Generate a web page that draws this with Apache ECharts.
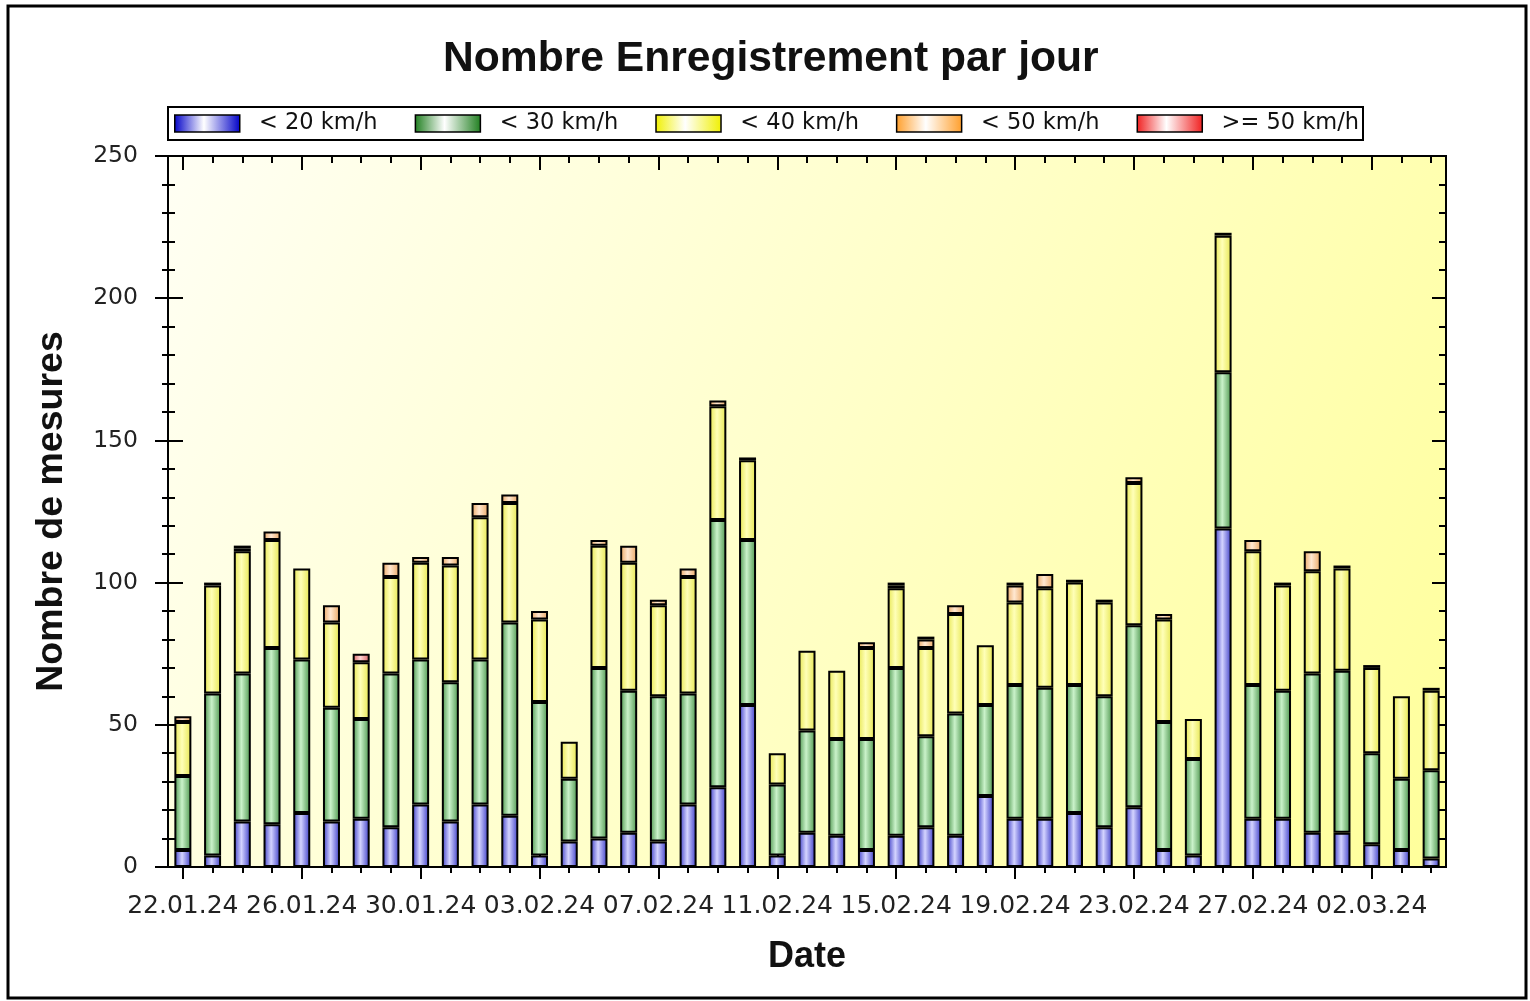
<!DOCTYPE html>
<html>
<head>
<meta charset="utf-8">
<script src="https://cdn.jsdelivr.net/npm/echarts/dist/echarts.min.js"></script>
<style>
html,body{margin:0;padding:0;background:#fff;}
#chart{width:1530px;height:1001px;}
</style>
</head>
<body>
<div id="chart"></div>
<script>
// ---- Data ----
const dates = ['22.01.24','23.01.24','24.01.24','25.01.24','26.01.24','27.01.24','28.01.24','29.01.24','30.01.24','31.01.24',
  '01.02.24','02.02.24','03.02.24','04.02.24','05.02.24','06.02.24','07.02.24','08.02.24','09.02.24','10.02.24',
  '11.02.24','12.02.24','13.02.24','14.02.24','15.02.24','16.02.24','17.02.24','18.02.24','19.02.24','20.02.24',
  '21.02.24','22.02.24','23.02.24','24.02.24','25.02.24','26.02.24','27.02.24','28.02.24','29.02.24','01.03.24',
  '02.03.24','03.03.24','04.03.24'];
const speedBands = ['< 20 km/h','< 30 km/h','< 40 km/h','< 50 km/h','>= 50 km/h'];
const below20 = [6,4,16,15,19,16,17,14,22,16,22,18,4,9,10,12,9,22,28,57,4,12,11,6,11,14,11,25,17,17,19,14,21,6,4,119,17,17,12,12,8,6,3];
const below30 = [26,57,52,62,54,40,35,54,51,49,51,68,54,22,60,50,51,39,94,58,25,36,34,39,59,32,43,32,47,46,45,46,64,45,34,55,47,45,56,57,32,25,31];
const below40 = [19,38,43,38,32,30,20,34,34,41,50,42,29,13,43,45,32,41,40,28,11,28,24,32,28,31,35,21,29,35,36,33,50,36,14,48,47,37,36,36,30,29,28];
const below50 = [2,1,1,3,0,6,0,5,2,3,5,3,3,0,2,6,2,3,2,1,0,0,0,2,1,3,3,0,6,5,1,1,2,2,0,1,4,1,7,1,1,0,1];
const above50 = [0,0,1,0,0,0,3,0,0,0,0,0,0,0,0,0,0,0,0,0,0,0,0,0,1,1,0,0,1,0,0,0,0,0,0,0,0,0,0,0,0,0,0];
const yMin = 0, yMax = 250, yStep = 50;

// ---- Styles ----
const FONT = 'DejaVu Sans';
const BOLD = 'Liberation Sans';
function hGrad(edge, light) {
  return new echarts.graphic.LinearGradient(0, 0, 1, 0, [
    {offset: 0, color: edge}, {offset: 0.45, color: light}, {offset: 1, color: edge}
  ]);
}
const barColors = [
  hGrad('#3a3ac6', '#d4d4ff'),
  hGrad('#4a944a', '#caf2ca'),
  hGrad('#e6e64e', '#ffffb8'),
  hGrad('#eaa660', '#ffe8d2'),
  hGrad('#d86060', '#ffd4d4')
];
const legendColors = [
  hGrad('#0000c8', '#ffffff'),
  hGrad('#1e7e1e', '#ffffff'),
  hGrad('#f0f000', '#ffffff'),
  hGrad('#ff9e2a', '#ffffff'),
  hGrad('#f01e1e', '#ffffff')
];
const black = {color: '#000', width: 2};
const bands = [below20, below30, below40, below50, above50];

function cat(extra) {
  return Object.assign({
    type: 'category', data: dates, gridIndex: 0, boundaryGap: true,
    axisLabel: {show: false}, axisLine: {show: false}, splitLine: {show: false}
  }, extra);
}
function val(extra) {
  return Object.assign({
    type: 'value', min: yMin, max: yMax, interval: yStep, gridIndex: 0,
    axisLabel: {show: false}, axisLine: {show: false}, splitLine: {show: false}
  }, extra);
}

const chart = echarts.init(document.getElementById('chart'), null, {renderer: 'canvas'});
chart.setOption({
  animation: false,
  backgroundColor: '#fff',
  title: {
    text: 'Nombre Enregistrement par jour',
    left: 438, top: 33,
    textStyle: {fontFamily: BOLD, fontWeight: 'bold', fontSize: 42.6, color: '#111'}
  },
  legend: {
    left: 168, top: 107,
    padding: [5, 4, 5, 6],
    itemGap: 37, itemWidth: 65, itemHeight: 17,
    borderColor: '#000', borderWidth: 2, backgroundColor: '#fff',
    icon: 'rect',
    formatter: n => '  ' + n,
    textStyle: {fontFamily: FONT, fontSize: 22.5, color: '#111'},
    data: speedBands.map((n, k) => ({
      name: n, itemStyle: {color: legendColors[k], borderColor: '#000', borderWidth: 1.5}
    }))
  },
  grid: {
    left: 168, right: 84, top: 156, bottom: 134,
    outerBoundsMode: 'none',
    show: true, borderColor: '#000', borderWidth: 2,
    backgroundColor: new echarts.graphic.LinearGradient(0, 0, 1, 1, [
      {offset: 0, color: '#fffff4'}, {offset: 0.5, color: '#ffffc8'}, {offset: 1, color: '#ffff9a'}
    ])
  },
  xAxis: [
    cat({
      position: 'bottom',
      axisLine: {show: true, lineStyle: black},
      axisTick: {show: true, interval: 0, alignWithLabel: true, length: 6, lineStyle: black},
      axisLabel: {show: true, interval: 3, margin: 27, color: '#222', fontFamily: FONT, fontSize: 25},
      name: 'Date', nameLocation: 'middle', nameGap: 72,
      nameTextStyle: {fontFamily: BOLD, fontWeight: 'bold', fontSize: 36, color: '#111'}
    }),
    cat({position: 'bottom', axisTick: {show: true, interval: 3, alignWithLabel: true, length: 12, lineStyle: black}}),
    cat({position: 'bottom', axisTick: {show: true, inside: true, interval: 3, alignWithLabel: true, length: 14, lineStyle: black}}),
    cat({position: 'top', axisLine: {show: true, lineStyle: black},
         axisTick: {show: true, inside: true, interval: 0, alignWithLabel: true, length: 7, lineStyle: black}}),
    cat({position: 'top', axisTick: {show: true, inside: true, interval: 3, alignWithLabel: true, length: 14, lineStyle: black}})
  ],
  yAxis: [
    val({
      position: 'left',
      axisLine: {show: true, lineStyle: black},
      axisTick: {show: true, length: 13, lineStyle: black},
      minorTick: {show: true, splitNumber: 5, length: 6, lineStyle: black},
      axisLabel: {show: true, margin: 30, color: '#222', fontFamily: FONT, fontSize: 23.5},
      name: 'Nombre de mesures', nameLocation: 'middle', nameGap: 97, nameRotate: 90,
      nameTextStyle: {fontFamily: BOLD, fontWeight: 'bold', fontSize: 37.5, color: '#111'}
    }),
    val({position: 'left', axisTick: {show: true, inside: true, length: 15, lineStyle: black},
         minorTick: {show: true, splitNumber: 5, length: 7, lineStyle: black}}),
    val({position: 'right', axisLine: {show: true, lineStyle: black},
         axisTick: {show: true, inside: true, length: 14, lineStyle: black},
         minorTick: {show: true, splitNumber: 5, length: 7, lineStyle: black}})
  ],
  series: bands.map((arr, k) => ({
    name: speedBands[k],
    type: 'bar',
    stack: 'total',
    xAxisIndex: 0, yAxisIndex: 0,
    barWidth: 17,
    data: arr.map(v => (v === 0 ? null : v)),
    itemStyle: {color: barColors[k], borderColor: '#000', borderWidth: 2},
    emphasis: {disabled: true}
  })),
  graphic: [{
    type: 'rect', silent: true, z: 100,
    shape: {x: 8, y: 6, width: 1518, height: 992},
    style: {fill: 'none', stroke: '#000', lineWidth: 3}
  }]
});
</script>
</body>
</html>
